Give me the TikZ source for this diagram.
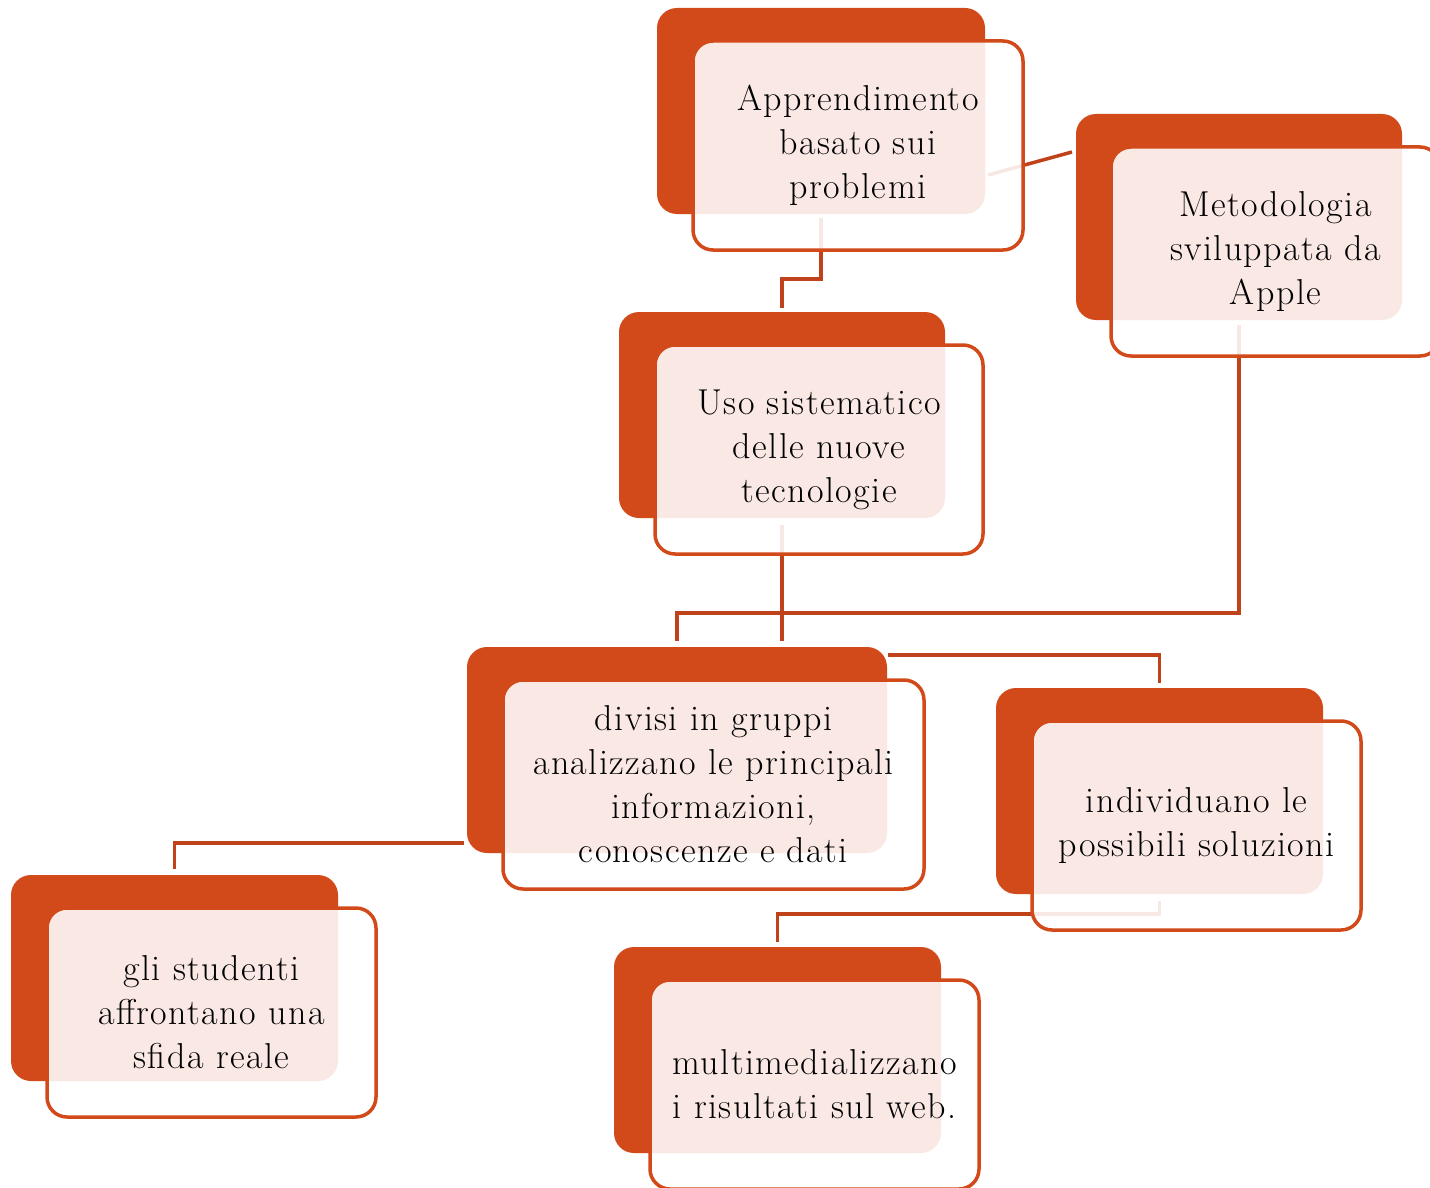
\documentclass[tikz,border=0pt]{standalone}
\usepackage{fontspec}
\setmainfont{Latin Modern Roman}[LetterSpace=4.0]
\definecolor{rust}{RGB}{210,74,26}
\definecolor{wire}{RGB}{192,66,26}
\pgfdeclarelayer{wires}
\pgfsetlayers{wires,main}
\tikzset{
  backbox/.style={fill=rust, draw=none, rounded corners=20pt,
    minimum height=206pt, inner sep=0pt, outer sep=0pt, anchor=north west},
  frontbox/.style={draw=rust, line width=3.5pt, fill=white, fill opacity=0.88,
    text opacity=1, rounded corners=20pt, minimum height=209pt,
    inner sep=0pt, outer sep=0pt, anchor=north west, align=center,
    font=\fontsize{36}{44}\selectfont, text=black},
  wire/.style={draw=wire, line width=3.5pt},
}
\begin{document}
\begin{tikzpicture}[x=1pt, y=-1pt]
\useasboundingbox (0,0) rectangle (1430,1188);

% coloured back plates
\node[backbox, minimum width=328pt] (Ad) at (657,8) {};
\node[backbox, minimum width=326pt] (Bd) at (619,312) {};
\node[backbox, minimum width=326pt] (Cd) at (1076,114) {};
\node[backbox, minimum width=420pt] (Dd) at (467,647) {};
\node[backbox, minimum width=327pt] (Ed) at (996,688) {};
\node[backbox, minimum width=327pt] (Fd) at (11,875) {};
\node[backbox, minimum width=327pt] (Gd) at (614,947) {};

% framed text panels
\node[frontbox, minimum width=330pt] (A) at (693,41)
  {Apprendimento\\basato sui\\problemi};
\node[frontbox, minimum width=328pt] (B) at (655,345)
  {Uso sistematico\\delle nuove\\tecnologie};
\node[frontbox, minimum width=329pt] (C) at (1111,147)
  {Metodologia\\sviluppata da\\Apple};
\node[frontbox, minimum width=421pt] (D) at (503,680)
  {divisi in gruppi\\analizzano le principali\\informazioni,\\conoscenze e dati};
\node[frontbox, minimum width=329pt] (E) at (1032,721)
  {individuano le\\possibili soluzioni};
\node[frontbox, minimum width=329pt] (F) at (47,908)
  {gli studenti\\affrontano una\\sfida reale};
\node[frontbox, minimum width=329pt] (G) at (650,980)
  {multimedializzano\\i risultati sul web.};

% connectors, kept beneath the panels
\begin{pgfonlayer}{wires}
  \draw[wire] ([yshift=-4pt]Ad.south) -- ++(0,61) -| ([yshift=4pt]Bd.north);
  \draw[wire] ([xshift=3pt,yshift=39pt]Ad.south east)
    -- ([xshift=-4pt,yshift=-38pt]Cd.north west);
  \draw[wire] ([yshift=-7pt]Bd.south) -- ++(0,116);
  \draw[wire] ([yshift=-5pt]Cd.south) -- ++(0,288) -| ([yshift=6pt]Dd.north);
  \draw[wire] ([xshift=1pt,yshift=-8pt]Dd.north east) -| ([yshift=5pt]Ed.north);
  \draw[wire] ([xshift=-3pt,yshift=10pt]Dd.south west) -| ([yshift=6pt]Fd.north);
  \draw[wire] ([yshift=-7pt]Ed.south) -- ++(0,13) -| ([yshift=5pt]Gd.north);
\end{pgfonlayer}
\end{tikzpicture}
\end{document}
